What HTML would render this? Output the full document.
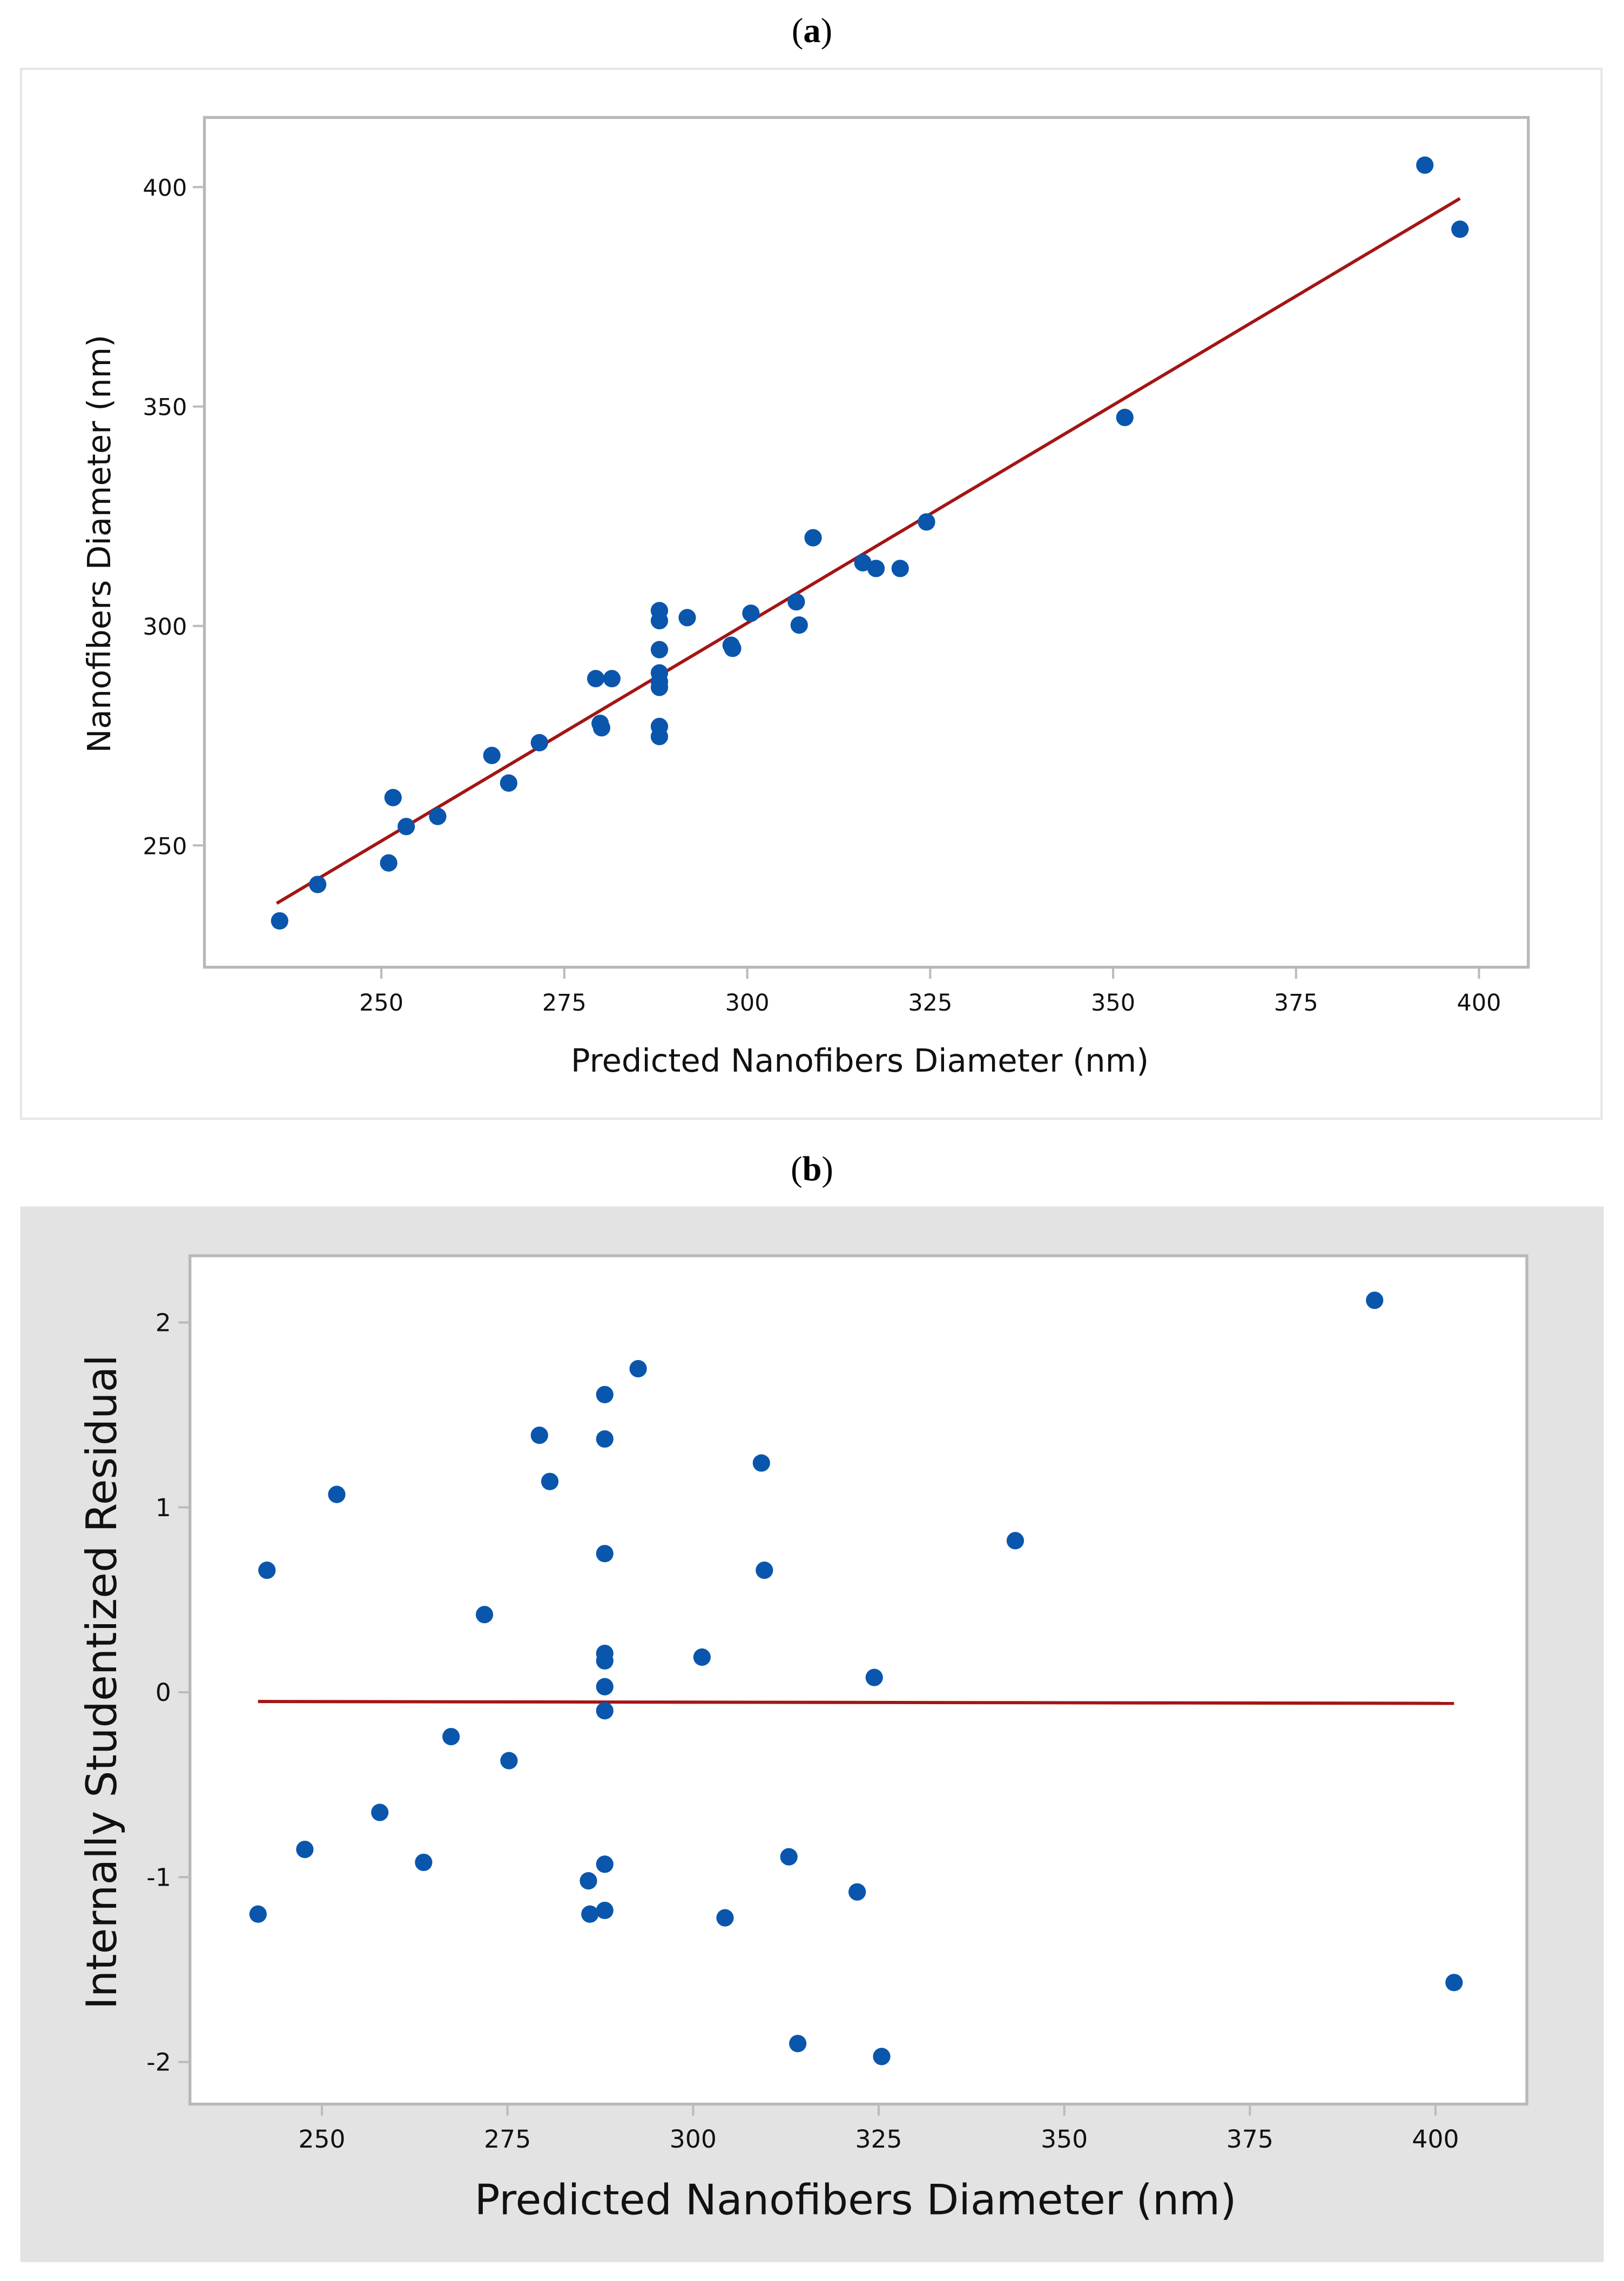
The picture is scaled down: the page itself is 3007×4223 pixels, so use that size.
<!DOCTYPE html>
<html><head><meta charset="utf-8"><style>
html,body{margin:0;padding:0;background:#fff;}
svg{display:block;}
text{font-family:"DejaVu Sans","Liberation Sans",sans-serif;fill:#111;}
.t{font-family:"Liberation Serif",serif;fill:#000;}
</style></head><body>
<svg id="fig" width="3007" height="4223" viewBox="0 0 1120 1573" preserveAspectRatio="none" xmlns="http://www.w3.org/2000/svg">
<text class="t" x="560" y="29" font-size="24" text-anchor="middle">(<tspan font-weight="bold">a</tspan>)</text>
<rect x="14.5" y="47.5" width="1090" height="724" fill="#fff" stroke="#e6e6e6" stroke-width="1.5"/>
<rect x="141" y="81" width="913" height="586" fill="#fff" stroke="#b8b8b8" stroke-width="2"/>
<g id="ga"></g>
<text x="593" y="739" font-size="22" text-anchor="middle">Predicted Nanofibers Diameter (nm)</text>
<text transform="translate(76,375) rotate(-90)" font-size="22" text-anchor="middle">Nanofibers Diameter (nm)</text>

<text class="t" x="560" y="814" font-size="24" text-anchor="middle">(<tspan font-weight="bold">b</tspan>)</text>
<rect x="14" y="832" width="1092" height="728" fill="#e3e3e3"/>
<rect x="131" y="866" width="922" height="585" fill="#fff" stroke="#b8b8b8" stroke-width="2"/>
<g id="gb"></g>
<text x="590" y="1527" font-size="29" text-anchor="middle">Predicted Nanofibers Diameter (nm)</text>
<text transform="translate(80,1160) rotate(-90)" font-size="29" text-anchor="middle">Internally Studentized Residual</text>
</svg>
<script>
// Panel (a) data
const aPred = [236.1,241.3,251.0,251.6,253.4,257.7,265.1,267.4,271.6,279.3,279.9,280.1,281.5,288.0,288.0,288.0,288.0,288.0,288.0,288.0,288.0,291.8,297.8,298.0,300.5,306.7,307.1,309.0,315.8,317.6,320.9,324.5,351.6,392.6,397.4];
const aObs = [232.8,241.1,246.0,260.9,254.3,256.6,270.5,264.2,273.4,288.0,277.8,276.8,288.0,303.5,301.2,294.6,289.3,287.3,286.0,277.1,274.8,301.9,295.6,294.9,302.9,305.5,300.2,320.1,314.4,313.1,313.1,323.7,347.5,405.0,390.4];
const aFitX = [235.7,397.4];
const aFitY = [236.8,397.4];
const aXTicks = [250,275,300,325,350,375,400];
const aYTicks = [250,300,350,400];
// Panel (b) data
const bPred = [241.4,242.6,247.7,252.0,257.8,263.7,267.4,271.9,275.2,279.3,280.7,285.9,286.1,288.1,288.1,288.1,288.1,288.1,288.1,288.1,288.1,288.1,292.6,301.2,304.3,309.2,309.6,312.9,314.1,322.1,324.4,325.4,343.4,391.8,402.5];
const bRes = [-1.20,0.66,-0.85,1.07,-0.65,-0.92,-0.24,0.42,-0.37,1.39,1.14,-1.02,-1.20,1.61,1.37,0.75,0.21,0.17,0.03,-0.10,-0.93,-1.18,1.75,0.19,-1.22,1.24,0.66,-0.89,-1.90,-1.08,0.08,-1.97,0.82,2.12,-1.57];
const bFitX = [241.4,402.5];
const bFitY = [-0.05,-0.06];
const bXTicks = [250,275,300,325,350,375,400];
const bYTicks = [-2,-1,0,1,2];

const NS='http://www.w3.org/2000/svg';
function mk(tag, attrs, parent){const e=document.createElementNS(NS,tag);for(const k in attrs)e.setAttribute(k,attrs[k]);parent.appendChild(e);return e;}

const axA = v => 260 + (v-250)*(1017-260)/150 + 3;
const ayA = v => 583 - (v-250)*(583-129)/150;
const axB = v => 222 + (v-250)*(990-222)/150;
const ayB = v => 1167 - v*(1422-912)/4;

const ga=document.getElementById('ga');
aXTicks.forEach(t=>{
  const l=mk('line',{x1:axA(t),x2:axA(t),y1:667,y2:675,stroke:'#bbb','stroke-width':1.5},ga);
  
  
  const tx=mk('text',{x:axA(t),y:697,'font-size':16,'text-anchor':'middle'},ga);tx.textContent=t;
  
  
});
aYTicks.forEach(t=>{
  const l=mk('line',{x1:133,x2:141,y1:ayA(t),y2:ayA(t),stroke:'#bbb','stroke-width':1.5},ga);
  
  
  const tx=mk('text',{x:129,y:ayA(t)+6,'font-size':16,'text-anchor':'end'},ga);tx.textContent=t;
  
  
});
const fa=mk('line',{x1:axA(aFitX[0]),y1:ayA(aFitY[0]),x2:axA(aFitX[1]),y2:ayA(aFitY[1]),stroke:'#a31515','stroke-width':2.2},ga);


aPred.forEach((p,i)=>{
  const c=mk('circle',{cx:axA(p),cy:ayA(aObs[i]),r:6,fill:'#0a56ad'},ga);
  
  
});

const gb=document.getElementById('gb');
bXTicks.forEach(t=>{
  const l=mk('line',{x1:axB(t),x2:axB(t),y1:1451,y2:1459,stroke:'#bbb','stroke-width':1.5},gb);
  
  
  const tx=mk('text',{x:axB(t),y:1481,'font-size':17,'text-anchor':'middle'},gb);tx.textContent=t;
  
  
});
bYTicks.forEach(t=>{
  const l=mk('line',{x1:123,x2:131,y1:ayB(t),y2:ayB(t),stroke:'#bbb','stroke-width':1.5},gb);
  
  
  const tx=mk('text',{x:118,y:ayB(t)+6,'font-size':17,'text-anchor':'end'},gb);tx.textContent=t;
  
  
});
const fb=mk('line',{x1:axB(bFitX[0]),y1:ayB(bFitY[0]),x2:axB(bFitX[1]),y2:ayB(bFitY[1]),stroke:'#a31515','stroke-width':2.2},gb);


bPred.forEach((p,i)=>{
  const c=mk('circle',{cx:axB(p),cy:ayB(bRes[i]),r:6,fill:'#0a56ad'},gb);
  
  
});
</script>
</body></html>
